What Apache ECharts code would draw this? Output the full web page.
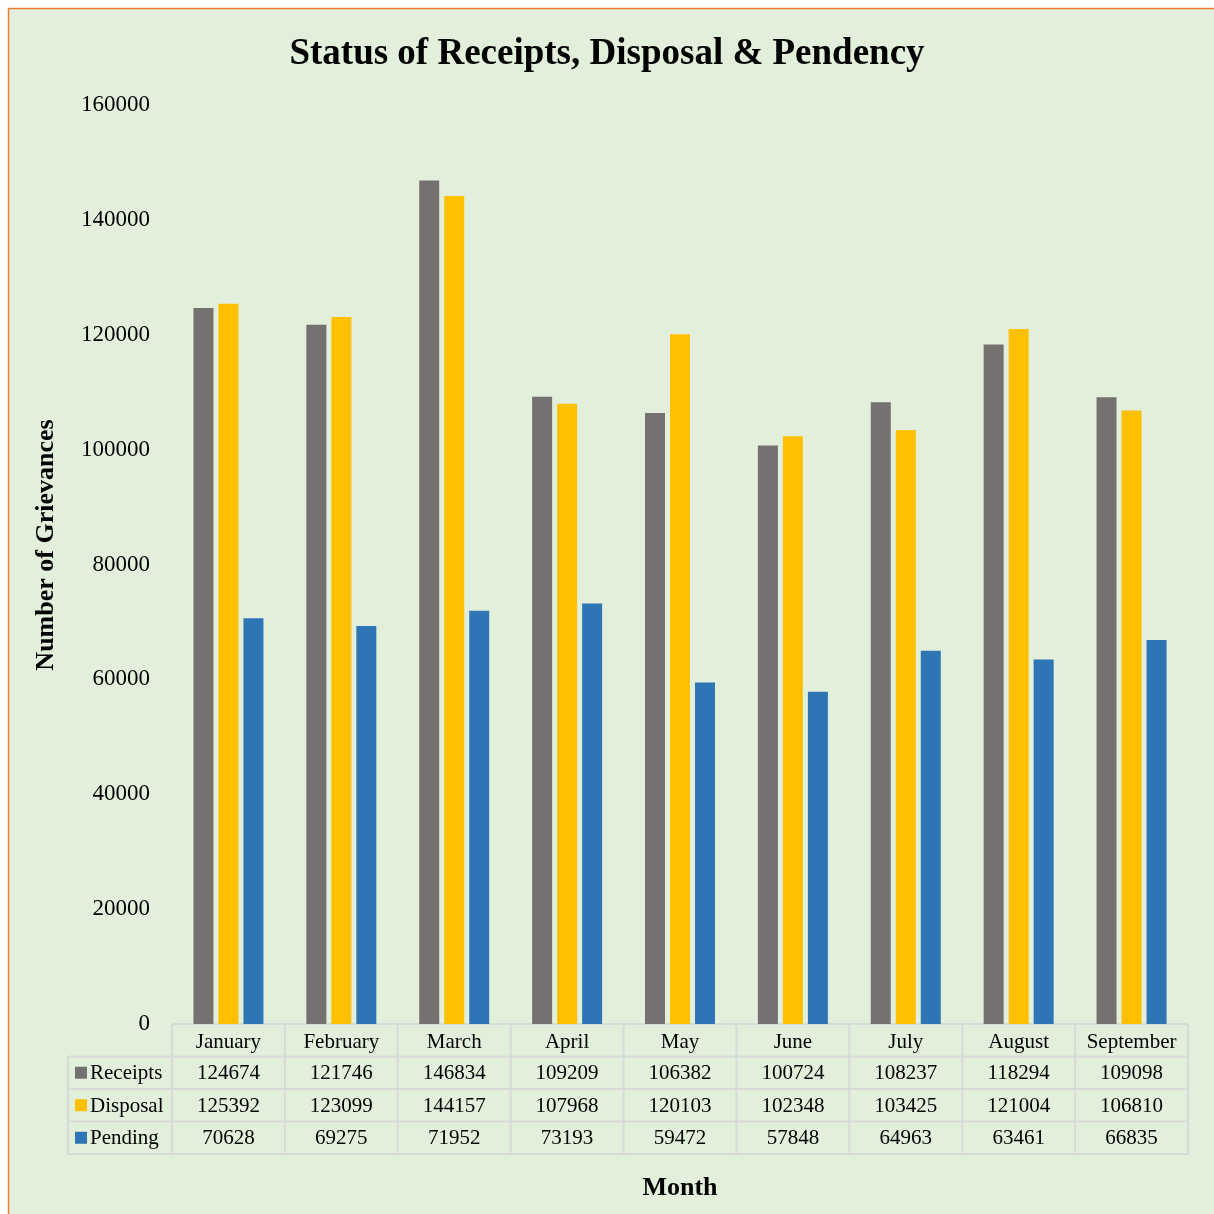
<!DOCTYPE html>
<html>
<head>
<meta charset="utf-8">
<script src="https://cdn.jsdelivr.net/npm/echarts@6/dist/echarts.min.js"></script>
<style>
  html, body { margin: 0; padding: 0; background: #ffffff; }
  #chart { width: 1214px; height: 1214px; }
</style>
</head>
<body>
<div id="chart"></div>
<script>
// Monthly grievance figures
const months = ['January', 'February', 'March', 'April', 'May', 'June', 'July', 'August', 'September'];
const receipts = [124674, 121746, 146834, 109209, 106382, 100724, 108237, 118294, 109098];
const disposal = [125392, 123099, 144157, 107968, 120103, 102348, 103425, 121004, 106810];
const pending  = [70628, 69275, 71952, 73193, 59472, 57848, 64963, 63461, 66835];
const seriesNames = ['Receipts', 'Disposal', 'Pending'];
const yTicks = [0, 20000, 40000, 60000, 80000, 100000, 120000, 140000, 160000];

const colors = ['#767171', '#FFC000', '#2E75B6'];
const FONT = '"Liberation Serif", "Times New Roman", serif';
const chart = echarts.init(document.getElementById('chart'), null, { renderer: 'canvas' });

const seriesData = [receipts, disposal, pending];

chart.setOption({
  backgroundColor: '#ffffff',
  animation: false,
  title: {
    text: 'Status of Receipts, Disposal & Pendency',
    left: 'center',
    top: 31,
    textStyle: { fontFamily: FONT, fontSize: 37, fontWeight: 'bold', color: '#000' }
  },
  grid: { left: 172, right: 26, top: 105, bottom: 190, containLabel: false },
  xAxis: {
    type: 'category',
    data: months,
    axisLine: { show: false },
    axisTick: { show: false },
    axisLabel: { show: false },
    name: 'Month',
    nameLocation: 'middle',
    nameGap: 151,
    nameTextStyle: { fontFamily: FONT, fontSize: 26, fontWeight: 'bold', color: '#000' }
  },
  yAxis: {
    type: 'value',
    min: yTicks[0],
    max: yTicks[yTicks.length - 1],
    interval: yTicks[1] - yTicks[0],
    splitLine: { show: false },
    axisLine: { show: false },
    axisTick: { show: false },
    axisLabel: { fontFamily: FONT, fontSize: 23, color: '#000', margin: 22, formatter: v => String(v) }
  },
  series: seriesNames.map((n, i) => ({
    name: n,
    type: 'bar',
    data: seriesData[i],
    barWidth: 20,
    barGap: '25%',
    itemStyle: { color: colors[i] }
  }))
});

// Frame, value-axis title and data table under the plot, laid out from the axis scales
function buildTable() {
  const x0 = chart.convertToPixel({ xAxisIndex: 0 }, 0);
  const x1 = chart.convertToPixel({ xAxisIndex: 0 }, 1);
  const step = x1 - x0;
  const left = x0 - step / 2;
  const right = left + step * months.length;
  const top = chart.convertToPixel({ yAxisIndex: 0 }, 0);
  const rowH = 32.5;
  const legendLeft = 68;
  const lineStyle = { stroke: '#D9D9D9', lineWidth: 2 };
  const textStyle = { fontFamily: FONT, fontSize: 21, fill: '#000' };
  const els = [];

  // background panel with the orange frame
  els.push({
    type: 'rect', z: -10, silent: true,
    shape: { x: 8.5, y: 8.5, width: 1214, height: 1214 },
    style: { fill: '#E2EFDA', stroke: '#ED7D31', lineWidth: 1.5 }
  });

  // value-axis title
  els.push({
    type: 'text', x: 46, y: 545, rotation: Math.PI / 2,
    style: { text: 'Number of Grievances', fontFamily: FONT, fontSize: 26, fontWeight: 'bold', fill: '#000', align: 'center', verticalAlign: 'middle' }
  });

  // horizontal rules
  els.push({ type: 'line', shape: { x1: left, y1: top, x2: right, y2: top }, style: lineStyle });
  for (let r = 1; r <= 4; r++) {
    const y = top + r * rowH;
    els.push({ type: 'line', shape: { x1: legendLeft, y1: y, x2: right, y2: y }, style: lineStyle });
  }
  // vertical rules
  els.push({ type: 'line', shape: { x1: legendLeft, y1: top + rowH, x2: legendLeft, y2: top + 4 * rowH }, style: lineStyle });
  for (let c = 0; c <= months.length; c++) {
    const x = left + c * step;
    els.push({ type: 'line', shape: { x1: x, y1: top, x2: x, y2: top + 4 * rowH }, style: lineStyle });
  }
  // header row: month names
  months.forEach((m, i) => {
    els.push({
      type: 'text',
      style: Object.assign({ text: m, x: chart.convertToPixel({ xAxisIndex: 0 }, i), y: top + rowH / 2 + 2, align: 'center', verticalAlign: 'middle' }, textStyle)
    });
  });
  // series rows: legend key + values
  seriesNames.forEach((n, s) => {
    const cy = top + (s + 1.5) * rowH;
    els.push({ type: 'rect', shape: { x: 75, y: cy - 6, width: 12, height: 12 }, style: { fill: colors[s] } });
    els.push({ type: 'text', style: Object.assign({ text: n, x: 90, y: cy + 1, align: 'left', verticalAlign: 'middle' }, textStyle) });
    seriesData[s].forEach((v, i) => {
      els.push({
        type: 'text',
        style: Object.assign({ text: String(v), x: chart.convertToPixel({ xAxisIndex: 0 }, i), y: cy + 1, align: 'center', verticalAlign: 'middle' }, textStyle)
      });
    });
  });
  chart.setOption({ graphic: { elements: els } });
}
buildTable();
</script>
</body>
</html>
